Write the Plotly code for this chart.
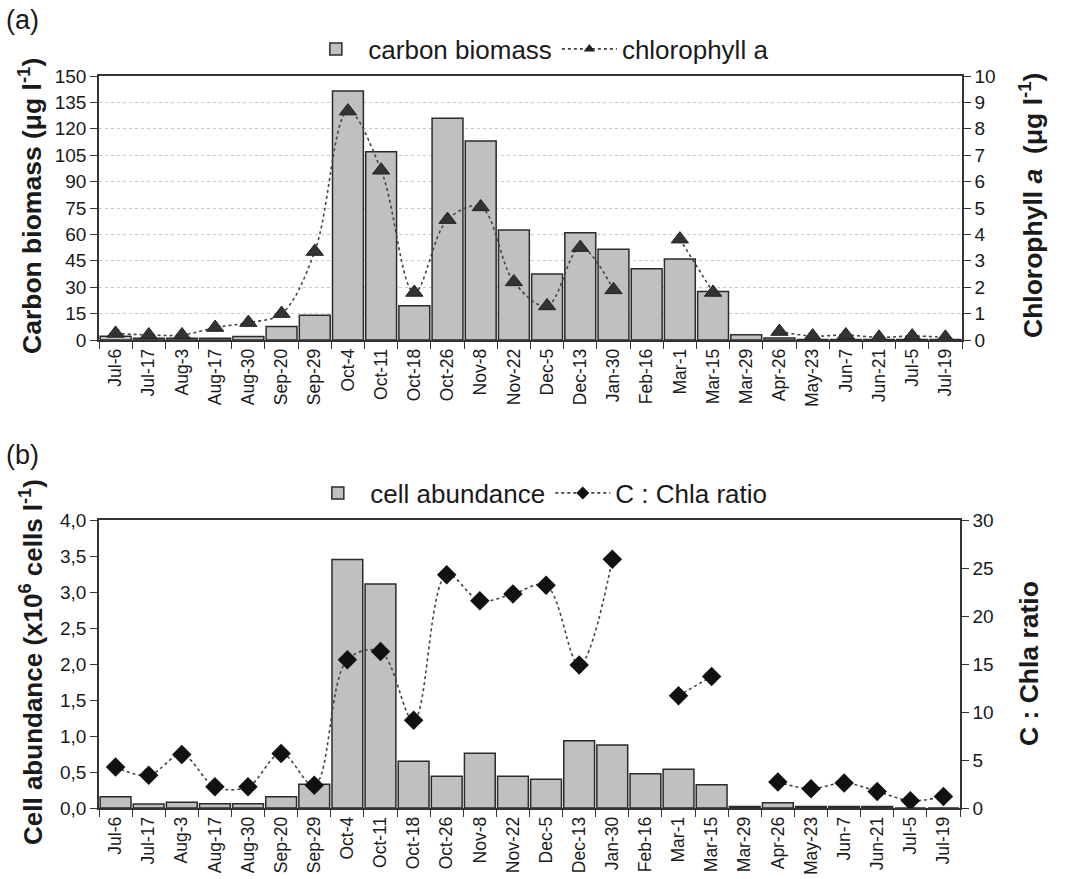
import plotly.graph_objects as go

# ---------------- data ----------------
categories = ["Jul-6", "Jul-17", "Aug-3", "Aug-17", "Aug-30", "Sep-20", "Sep-29",
              "Oct-4", "Oct-11", "Oct-18", "Oct-26", "Nov-8", "Nov-22", "Dec-5",
              "Dec-13", "Jan-30", "Feb-16", "Mar-1", "Mar-15", "Mar-29", "Apr-26",
              "May-23", "Jun-7", "Jun-21", "Jul-5", "Jul-19"]

carbon_biomass = [2.2, 1.0, 1.0, 1.0, 2.0, 7.6, 14.0, 141.5, 107, 19.5, 126, 113,
                  62.5, 37.5, 61, 51.5, 40.5, 46, 27.5, 3.0, 1.2, 0.3, 0.3, 0.3,
                  0.3, 0.3]

chlorophyll_a = [0.25, 0.19, 0.19, 0.47, 0.66, 1.0, 3.35, 8.67, 6.43, 1.8, 4.56,
                 5.04, 2.2, 1.29, 3.5, 1.9, None, 3.82, 1.8, None, 0.32, 0.15,
                 0.19, 0.1, 0.15, 0.1]

cell_abundance = [0.157, 0.056, 0.08, 0.06, 0.06, 0.157, 0.33, 3.45, 3.11, 0.65,
                  0.44, 0.76, 0.44, 0.40, 0.935, 0.875, 0.477, 0.537, 0.324, 0.02,
                  0.074, 0.02, 0.02, 0.02, 0.0, 0.0]

c_chla_ratio = [4.27, 3.4, 5.56, 2.22, 2.22, 5.69, 2.36, 15.45, 16.3, 9.13, 24.3,
                21.6, 22.3, 23.2, 14.9, 25.9, None, 11.7, 13.7, None, 2.7, 2.0,
                2.6, 1.73, 0.76, 1.2]

left_ticks_a = [0, 15, 30, 45, 60, 75, 90, 105, 120, 135, 150]
right_ticks_a = list(range(0, 11))
left_ticks_b = [0.0, 0.5, 1.0, 1.5, 2.0, 2.5, 3.0, 3.5, 4.0]
left_tick_text_b = ["0,0", "0,5", "1,0", "1,5", "2,0", "2,5", "3,0", "3,5", "4,0"]
right_ticks_b = [0, 5, 10, 15, 20, 25, 30]

# ---------------- styling ----------------
W, H = 1067, 879
FONT = "Liberation Sans, Arial, Helvetica, sans-serif"
AX = "#333333"
TXT = "#1a1a1a"


def fx(p):
    return p / W


def fy(p):
    return 1 - p / H


bar_style = dict(color="#c0c0c0", line=dict(color="#2b2b2b", width=1.5))
line_style = dict(color="#444444", width=1.6, dash="dot", shape="spline",
                  smoothing=1.0)
n = len(categories)

fig = go.Figure()
# panel (a)
fig.add_trace(go.Bar(x=categories, y=carbon_biomass, name="carbon biomass",
                     marker=bar_style, xaxis="x", yaxis="y", legend="legend"))
fig.add_trace(go.Scatter(x=categories, y=chlorophyll_a, name="chlorophyll a",
                         mode="lines+markers", connectgaps=False, line=line_style,
                         marker=dict(symbol="triangle-up", size=15, color="#333333",
                                     line=dict(color="#222222", width=1)),
                         xaxis="x", yaxis="y2", showlegend=False))
fig.add_trace(go.Scatter(x=[None], y=[None], name="chlorophyll a",
                         mode="lines+markers",
                         line=dict(color="#444444", width=1.6, dash="dot"),
                         marker=dict(symbol="triangle-up", size=10, color="#222222"),
                         xaxis="x", yaxis="y2", legend="legend"))
# panel (b)
fig.add_trace(go.Bar(x=categories, y=cell_abundance, name="cell abundance",
                     marker=bar_style, xaxis="x2", yaxis="y3", legend="legend2"))
fig.add_trace(go.Scatter(x=categories, y=c_chla_ratio, name="C : Chla ratio",
                         mode="lines+markers", connectgaps=False, line=line_style,
                         marker=dict(symbol="diamond", size=15, color="#111111"),
                         xaxis="x2", yaxis="y4", showlegend=False))
fig.add_trace(go.Scatter(x=[None], y=[None], name="C : Chla ratio",
                         mode="lines+markers",
                         line=dict(color="#444444", width=1.6, dash="dot"),
                         marker=dict(symbol="diamond", size=10, color="#111111"),
                         xaxis="x2", yaxis="y4", legend="legend2"))

xcommon = dict(type="category", range=[-0.5, n - 0.5], tickson="boundaries",
               ticks="outside", ticklen=7, tickcolor=AX, tickwidth=1.2,
               tickangle=-90, showline=True, linecolor=AX, linewidth=1.5,
               mirror=True, showgrid=False,
               tickfont=dict(family=FONT, size=17.5, color=TXT), automargin=False,
               fixedrange=True)
ycommon = dict(ticks="outside", ticklen=7, tickcolor=AX, tickwidth=1.2,
               showline=True, linecolor=AX, linewidth=1.5, zeroline=False,
               tickfont=dict(family=FONT, size=19, color=TXT), automargin=False)
legcommon = dict(orientation="h", x=0.505, xanchor="center", yanchor="middle",
                 font=dict(family=FONT, size=26, color=TXT),
                 bgcolor="rgba(0,0,0,0)", itemwidth=55, tracegroupgap=0)

fig.update_layout(
    width=W, height=H,
    margin=dict(l=0, r=0, t=0, b=0),
    paper_bgcolor="white", plot_bgcolor="white",
    bargap=0.07,
    font=dict(family=FONT, color=TXT),
    xaxis=dict(domain=[fx(99), fx(962)], anchor="y", **xcommon),
    yaxis=dict(domain=[fy(340), fy(76)], range=[0, 150], tickvals=left_ticks_a,
               showgrid=True, gridcolor="#c8c8c8", griddash="dot", gridwidth=1,
               **ycommon),
    yaxis2=dict(overlaying="y", side="right", anchor="x", range=[0, 10],
                tickvals=right_ticks_a, showgrid=False, **ycommon),
    xaxis2=dict(domain=[fx(99), fx(960)], anchor="y3", **xcommon),
    yaxis3=dict(domain=[fy(808), fy(520)], range=[0, 4.0], tickvals=left_ticks_b,
                ticktext=left_tick_text_b, showgrid=False, **ycommon),
    yaxis4=dict(overlaying="y3", side="right", anchor="x2", range=[0, 30],
                tickvals=right_ticks_b, showgrid=False, **ycommon),
    legend=dict(y=fy(49), **legcommon),
    legend2=dict(y=fy(493), **legcommon),
    showlegend=True,
)

ann = [
    dict(text="(a)", x=fx(4), y=fy(20), xanchor="left", yanchor="middle",
         font=dict(size=27)),
    dict(text="(b)", x=fx(4), y=fy(455), xanchor="left", yanchor="middle",
         font=dict(size=27)),
    dict(text="<b>Carbon biomass (μg l<sup>-1</sup>)</b>", x=fx(30), y=fy(206),
         textangle=-90, xanchor="center", yanchor="middle", font=dict(size=26.5)),
    dict(text="<b>Chlorophyll <i>a</i>  (μg l<sup>-1</sup>)</b>", x=fx(1031),
         y=fy(206), textangle=-90, xanchor="center", yanchor="middle",
         font=dict(size=26.5)),
    dict(text="<b>Cell abundance (x10<sup>6</sup> cells l<sup>-1</sup>)</b>",
         x=fx(31), y=fy(662), textangle=-90, xanchor="center", yanchor="middle",
         font=dict(size=26)),
    dict(text="<b>C : Chla ratio</b>", x=fx(1029), y=fy(664), textangle=-90,
         xanchor="center", yanchor="middle", font=dict(size=26.5)),
]
for a in ann:
    a.update(xref="paper", yref="paper", showarrow=False)
    a["font"].update(family=FONT, color=TXT)
fig.update_layout(annotations=ann)

fig.write_html("out.html")
